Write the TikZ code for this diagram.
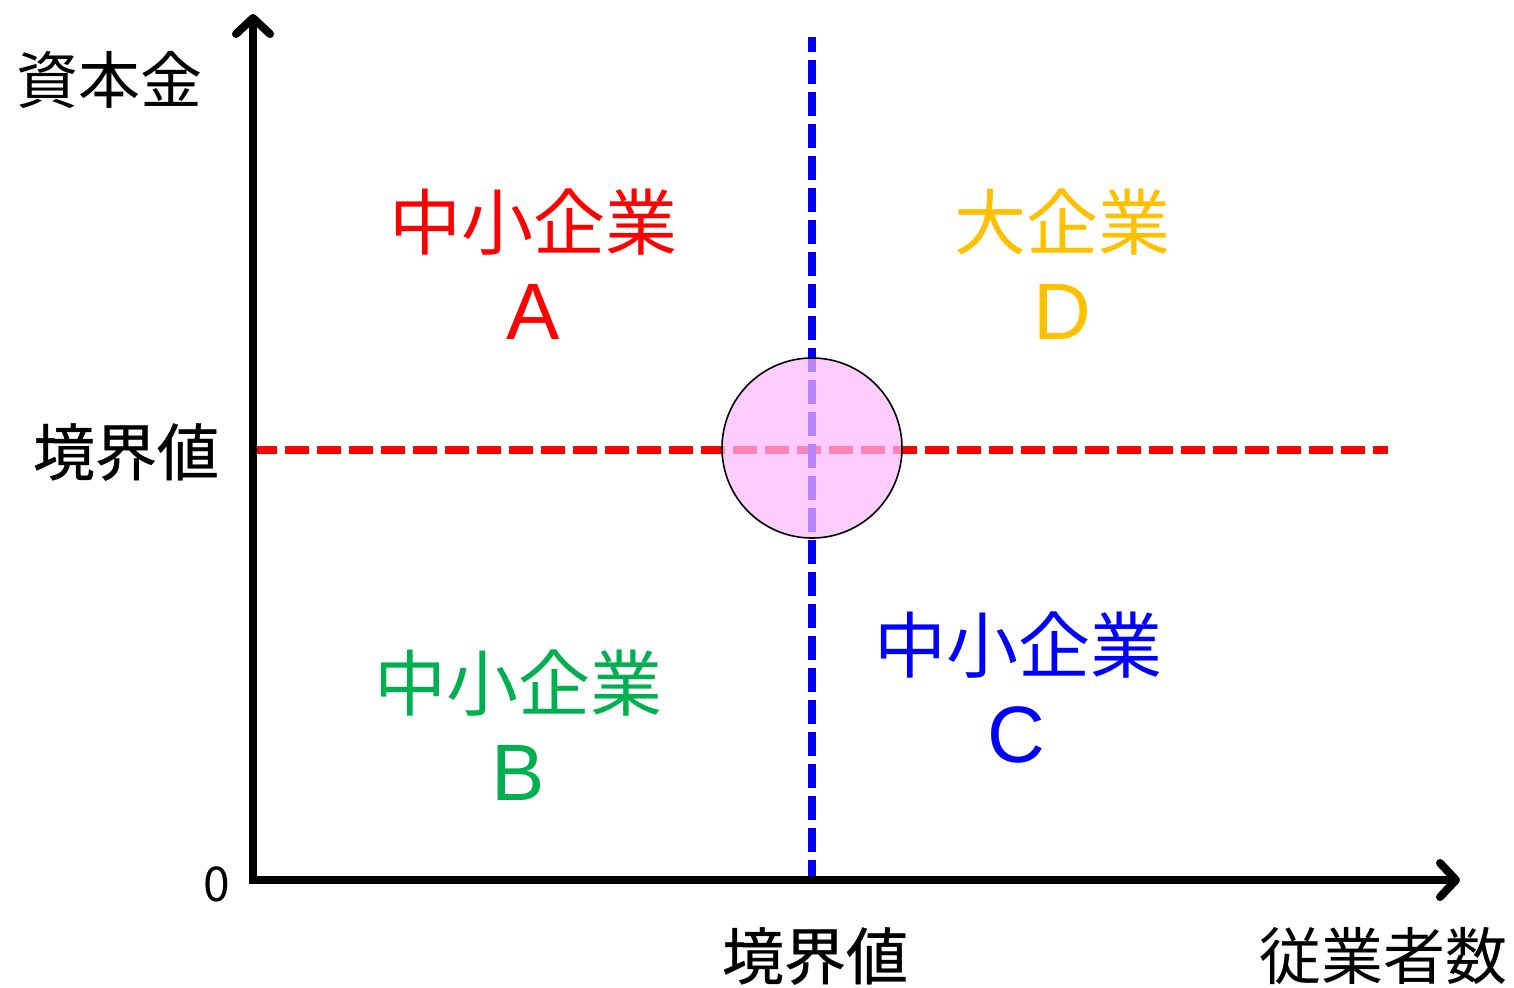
\documentclass[tikz,border=0pt]{standalone}
\usepackage{fontspec}
\setmainfont{Noto Sans CJK JP}
\newfontfamily\jpmed{Noto Sans CJK JP}[FakeBold=0.6]
\newfontfamily\latinsans{Liberation Sans}
\usetikzlibrary{arrows.meta}
\definecolor{cred}{RGB}{255,0,0}
\definecolor{cgreen}{RGB}{0,176,80}
\definecolor{cblue}{RGB}{0,0,255}
\definecolor{corange}{RGB}{255,192,0}
\definecolor{cpink}{RGB}{255,185,255}
\tikzset{
  barb/.tip={Straight Barb[length=8pt,width=17pt,line width=4pt,round]},
  axis/.style={line width=4pt, line join=miter, barb-barb},
  divider/.style={line width=4pt, dash pattern=on 12pt off 4pt},
  big/.style={font=\fontsize{36}{40}\selectfont, inner sep=0pt},
  letter/.style={font=\latinsans\fontsize{40}{44}\selectfont, inner sep=0pt},
  lab/.style={font=\fontsize{31}{34}\selectfont, inner sep=0pt},
}
\begin{document}
\begin{tikzpicture}[x=0.5pt,y=-0.5pt]
\useasboundingbox (0,0) rectangle (1514,987);
\coordinate (O) at (253,880);
\coordinate (ytop) at (253,14);
\coordinate (xend) at (1460,880);
\coordinate (vtop) at (812,37);
\coordinate (vbot) at (812,884);
\coordinate (hl) at (253,450);
\coordinate (hr) at (1388,450);
\draw[divider, cred] (hl) -- (hr);
\draw[divider, cblue] (vbot) -- (vtop);
\node[circle, draw=black, line width=0.8pt, fill=cpink, fill opacity=0.72, minimum size=90pt, inner sep=0pt] (circ) at (812,448) {};
\draw[axis] (ytop) -- (O) -- (xend);
\node[lab] (cap) at (110,80) {資本金};
\node[lab] (thy) at (126,452) {\jpmed 境界値};
\node[lab] (thx) at (815,956) {\jpmed 境界値};
\node[lab] (emp) at (1383,956) {従業者数};
\node[font=\fontsize{24}{26}\selectfont, inner sep=0pt] (zero) at (217,884) {0};
\node[big, text=cred] (a1) at (533,222) {中小企業};
\node[letter, text=cred] (a2) at (533,312) {A};
\node[big, text=corange] (d1) at (1062,222) {大企業};
\node[letter, text=corange] (d2) at (1062,312) {D};
\node[big, text=cgreen] (b1) at (518,683) {中小企業};
\node[letter, text=cgreen] (b2) at (518,773) {B};
\node[big, text=cblue] (c1) at (1018,645) {中小企業};
\node[letter, text=cblue] (c2) at (1016,735) {C};
\end{tikzpicture}
\end{document}
